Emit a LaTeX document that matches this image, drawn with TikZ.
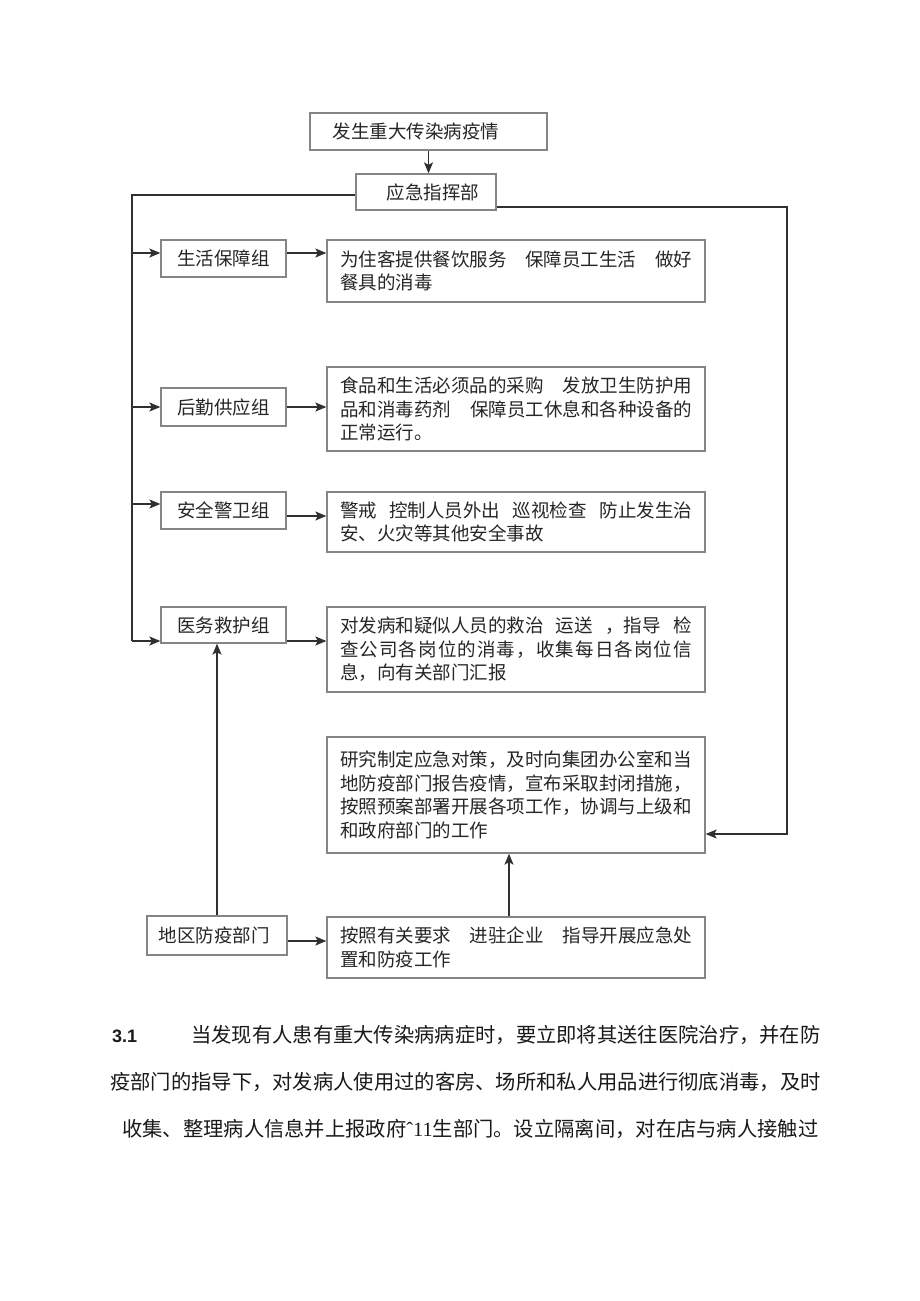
\documentclass[tikz,border=0pt]{standalone}
\usepackage{fontspec}
\newfontfamily\cjk{Noto Sans CJK SC}
\newfontfamily\latsans{Liberation Sans}
\newfontfamily\latserif{Liberation Serif}
\usetikzlibrary{arrows.meta}
\definecolor{boxline}{HTML}{858585}
\definecolor{conn}{HTML}{303030}
\definecolor{txt}{HTML}{262626}
\newcommand{\gp}{\hspace{2pt plus 1fil}}
\newcommand{\jline}[1]{\makebox[352pt][s]{#1}}
\def\spreadA#1{\ifx#1\relax\else#1\hspace{0pt plus 1fil}\expandafter\spreadA\fi}
\newcommand{\sline}[1]{\makebox[352pt][s]{\spreadA#1\relax\unskip}}
\begin{document}
\begin{tikzpicture}[x=1pt,y=-1pt,
  box/.style={draw=boxline, line width=1.3pt, fill=white, inner sep=0pt, text=txt,
    font=\cjk\fontsize{18.5}{23.5}\selectfont},
  grp/.style={box, minimum width=125pt},
  desc/.style={box, minimum width=378pt, text width=352pt, align=left},
  conn line/.style={draw=conn, line width=1.4pt},
  arr/.style={conn line, -{Stealth[length=11pt,width=9pt,inset=2.5pt]}},
  para/.style={inner sep=0pt, text=black!90, font=\cjk\fontsize{20.3}{24}\selectfont}
]
\useasboundingbox (0,0) rectangle (920,1301);
\fill[white] (0,0) rectangle (920,1301);

% top boxes
\node[box, minimum width=237pt, minimum height=37pt] (top) at (428.5,131.5) {发生重大传染病疫情\hspace*{25pt}};
\node[box, minimum width=140pt, minimum height=36pt] (cmd) at (426,192) {\hspace*{14pt}应急指挥部};

% group boxes
\node[grp, minimum height=37pt] (g1) at (223.5,258.5) {生活保障组};
\node[grp, minimum height=38pt] (g2) at (223.5,407) {后勤供应组};
\node[grp, minimum height=37pt] (g3) at (223.5,510.5) {安全警卫组};
\node[grp, minimum height=36pt] (g4) at (223.5,625) {医务救护组};
\node[box, minimum width=140pt, minimum height=39pt] (dq) at (217,935.5) {地区防疫部门\hspace*{6pt}};

% description boxes
\node[desc, minimum height=62pt] (r1) at (516,271)
  {\jline{为住客提供餐饮服务\gp 保障员工生活\gp 做好}\\餐具的消毒};
\node[desc, minimum height=84pt] (r2) at (516,409)
  {\jline{食品和生活必须品的采购\gp 发放卫生防护用}\\
   \jline{品和消毒药剂\gp 保障员工休息和各种设备的}\\正常运行。};
\node[desc, minimum height=60pt] (r3) at (516,522)
  {\jline{警戒\gp 控制人员外出\gp 巡视检查\gp 防止发生治}\\安、火灾等其他安全事故};
\node[desc, minimum height=85pt] (r4) at (516,649.5)
  {\jline{对发病和疑似人员的救治\gp 运送\gp ，指导\gp 检}\\
   \sline{查公司各岗位的消毒，收集每日各岗位信}\\息，向有关部门汇报};
\node[desc, minimum height=116pt] (r5) at (516,795)
  {研究制定应急对策，及时向集团办公室和当\\
   地防疫部门报告疫情，宣布采取封闭措施，\\
   按照预案部署开展各项工作，协调与上级和\\
   和政府部门的工作};
\node[desc, minimum height=61pt] (r6) at (516,947.5)
  {\jline{按照有关要求\gp 进驻企业\gp 指导开展应急处}\\置和防疫工作};

% trunk coordinates
\coordinate (LT) at (132,195);
\coordinate (LB) at (132,641);
\coordinate (RT) at (787,207);
\coordinate (RB) at (787,834);

% connectors
\draw[arr] (top.south) -- (top.south |- cmd.north);
\draw[conn line] (cmd.west |- LT) -- (LT) -- (LB);
\draw[arr] (LT |- 0,253) -- (g1.west |- 0,253);
\draw[arr] (LT |- 0,407) -- (g2.west |- 0,407);
\draw[arr] (LT |- 0,504) -- (g3.west |- 0,504);
\draw[arr] (LB) -- (g4.west |- LB);

\draw[arr] (g1.east |- 0,253) -- (r1.west |- 0,253);
\draw[arr] (g2.east |- 0,407) -- (r2.west |- 0,407);
\draw[arr] (g3.east |- 0,516) -- (r3.west |- 0,516);
\draw[arr] (g4.east |- 0,641) -- (r4.west |- 0,641);

\draw[arr] (cmd.east |- RT) -- (RT) -- (RB) -- (r5.east |- RB);

\draw[arr] (dq.north) -- (dq.north |- g4.south);
\draw[arr] (dq.east |- 0,941) -- (r6.west |- 0,941);
\draw[arr] (r6.north -| 509,0) -- (r5.south -| 509,0);

% paragraph
\node[para, anchor=west, font=\latsans\bfseries\fontsize{18}{20}\selectfont] (p0) at (112,1036) {3.1};
\node[para, anchor=west] (p1) at (191,1035) {当发现有人患有重大传染病病症时，要立即将其送往医院治疗，并在防};
\node[para, anchor=west] (p2) at (110,1082) {疫部门的指导下，对发病人使用过的客房、场所和私人用品进行彻底消毒，及时};
\node[para, anchor=west] (p3) at (122,1129) {收集、整理病人信息并上报政府{\latserif ˆ11}生部门。设立隔离间，对在店与病人接触过};
\end{tikzpicture}
\end{document}
